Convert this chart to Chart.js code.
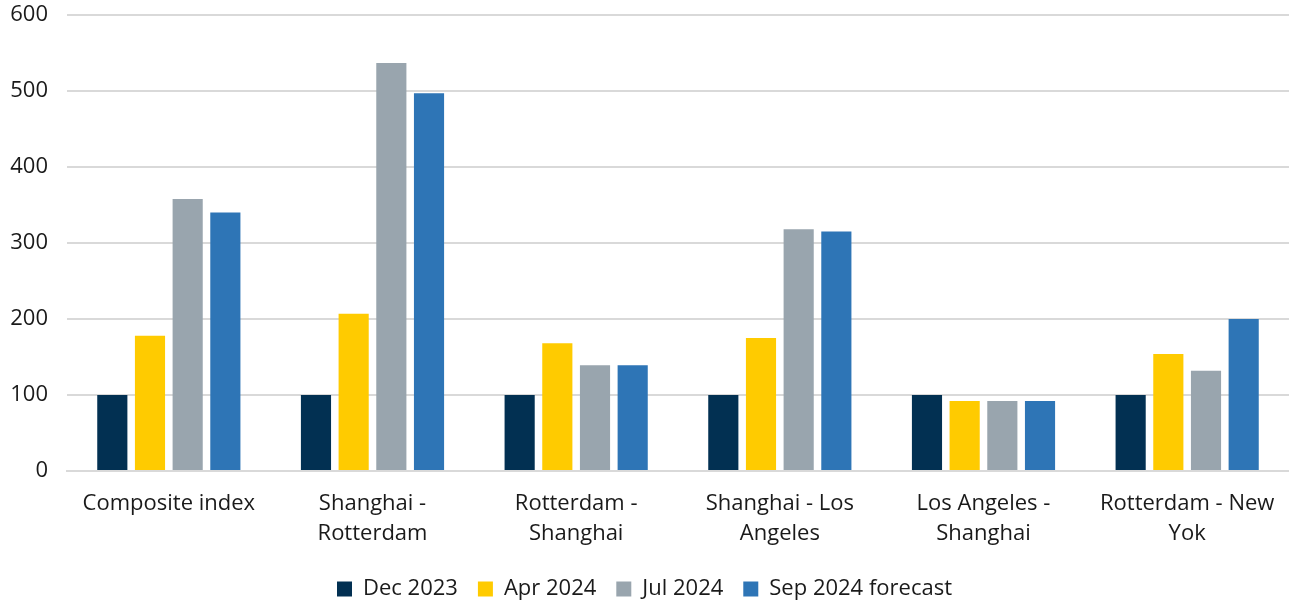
<!DOCTYPE html>
<html>
<head>
<meta charset="utf-8">
<script src="https://cdn.jsdelivr.net/npm/chart.js@4.4.1/dist/chart.umd.min.js"></script>
<style>
html,body{margin:0;padding:0;background:#fff;}
#wrap{width:1289px;height:601px;position:relative;}
</style>
</head>
<body>
<div id="wrap"><canvas id="c"></canvas></div>
<script>
const categories = [
  "Composite index",
  ["Shanghai -", "Rotterdam"],
  ["Rotterdam -", "Shanghai"],
  ["Shanghai - Los", "Angeles"],
  ["Los Angeles -", "Shanghai"],
  ["Rotterdam - New", "Yok"]
];
const seriesNames = ["Dec 2023", "Apr 2024", "Jul 2024", "Sep 2024 forecast"];
const dec2023 = [100, 100, 100, 100, 100, 100];
const apr2024 = [178, 207, 168, 175, 92, 154];
const jul2024 = [358, 537, 139, 318, 92, 132];
const sep2024 = [340, 497, 139, 315, 92, 200];
const colors = ["#023052", "#FFCB00", "#99A5AE", "#2E75B6"];
const yTicks = [0, 100, 200, 300, 400, 500, 600];

const FONT = "'Open Sans', Lato, sans-serif";
const seriesData = [dec2023, apr2024, jul2024, sep2024];

new Chart(document.getElementById('c'), {
  type: 'bar',
  data: {
    labels: categories,
    datasets: seriesData.map((d, i) => ({
      label: seriesNames[i],
      data: d,
      backgroundColor: colors[i],
      borderWidth: 0,
      categoryPercentage: 0.74,
      barPercentage: 0.8
    }))
  },
  options: {
    responsive: true,
    maintainAspectRatio: false,
    animation: false,
    layout: { padding: { top: 0, left: 0, right: 0, bottom: -9 } },
    scales: {
      x: {
        afterFit: (s) => { s.height = 87; s.paddingLeft = 0; s.paddingRight = 0; },
        grid: { display: false, drawTicks: false },
        border: { display: true, color: '#d9d9d9', width: 2 },
        ticks: {
          color: '#1a1a1a',
          font: { family: FONT, size: 22, lineHeight: 1.36 },
          padding: 18,
          maxRotation: 0,
          autoSkip: false
        }
      },
      y: {
        min: 0,
        max: 600,
        afterBuildTicks: (axis) => { axis.ticks = yTicks.map(v => ({ value: v })); },
        afterFit: (s) => { s.width = 67; s.paddingTop = 15; s.paddingBottom = 0; },
        grid: { color: '#d9d9d9', lineWidth: 2, drawTicks: false },
        border: { display: false },
        ticks: {
          color: '#1a1a1a',
          font: { family: FONT, size: 22 },
          padding: 19
        }
      }
    },
    plugins: {
      legend: {
        position: 'bottom',
        labels: {
          color: '#1a1a1a',
          font: { family: FONT, size: 22 },
          boxWidth: 15,
          boxHeight: 15,
          padding: 20,
          useBorderRadius: false
        }
      },
      tooltip: { enabled: false }
    }
  }
});
</script>
</body>
</html>
